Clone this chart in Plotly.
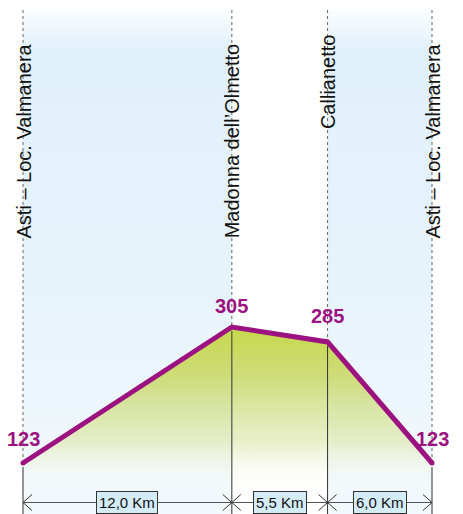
import numpy as np
import plotly.graph_objects as go

# ---------------- data ----------------
SEGMENT_KM = [12.0, 5.5, 6.0]
ELEVATION_M = [123, 305, 285, 123]
PLACE_NAMES = ["Asti – Loc. Valmanera", "Madonna dell’Olmetto", "Callianetto", "Asti – Loc. Valmanera"]
SEGMENT_LABELS = ["12,0 Km", "5,5 Km", "6,0 Km"]
ELEVATION_LABELS = [str(v) for v in ELEVATION_M]

# ---------------- layout constants (pixels) ----------------
W, H = 463, 514
X_FIRST_PX, X_LAST_PX = 23, 432
Y_MIN_PX, Y_MAX_PX = 463, 327
TOP_PX = 10
NAME_BOTTOM_PX = [241, 240, 131, 241]
LABEL_SHIFT_PX = [24, 21, 26, 24]
DIM_PX = 502.5
FILL_BOTTOM_PX = 492

MAGENTA = "#9c1280"
NAME_FONT = "Liberation Sans, Arial, sans-serif"
NUM_FONT = "Liberation Sans, Arial, sans-serif"

dist = np.concatenate([[0.0], np.cumsum(SEGMENT_KM)])
elev = np.array(ELEVATION_M, dtype=float)

px_per_km = (X_LAST_PX - X_FIRST_PX) / (dist[-1] - dist[0])
px_per_m = (Y_MIN_PX - Y_MAX_PX) / (elev.max() - elev.min())
x_range = [dist[0] - X_FIRST_PX / px_per_km, dist[-1] + (W - X_LAST_PX) / px_per_km]
y_range = [elev.min() - (H - Y_MIN_PX) / px_per_m, elev.max() + Y_MAX_PX / px_per_m]


def y_at(px):
    return y_range[1] - px / px_per_m


def dx(px):
    return px / px_per_km


def dy(px):
    return px / px_per_m


fig = go.Figure()

# background bands (alternate segments)
for i in range(len(SEGMENT_KM)):
    if i % 2 == 1:
        continue
    a, b = dist[i], dist[i + 1]
    y0, y1 = y_at(H + 2), y_at(TOP_PX)
    fig.add_trace(go.Scatter(
        x=[a, b, b, a, a], y=[y0, y0, y1, y1, y0], mode="lines",
        line=dict(width=0), fill="toself",
        fillgradient=dict(type="vertical", start=y0, stop=y1,
                          colorscale=[[0, "#f3f9fd"], [0.45, "#e7f3fb"], [0.92, "#e0f0fa"], [1, "#fbfdff"]]),
        hoverinfo="skip", showlegend=False))

# green area under profile
base = y_at(FILL_BOTTOM_PX)
fig.add_trace(go.Scatter(
    x=list(dist) + [dist[-1], dist[0], dist[0]],
    y=list(elev) + [base, base, elev[0]],
    mode="lines", line=dict(width=0), fill="toself",
    fillgradient=dict(type="vertical", start=base, stop=elev.max(),
                      colorscale=[[0, "rgba(255,255,255,0)"], [0.3, "rgba(225,234,185,0.75)"],
                                  [0.7, "rgba(203,219,115,0.95)"], [1, "rgb(198,216,75)"]]),
    hoverinfo="skip", showlegend=False))

# dotted verticals above points
xs, ys = [], []
for d, e in zip(dist, elev):
    xs += [d, d, None]
    ys += [y_at(TOP_PX), e, None]
fig.add_trace(go.Scatter(x=xs, y=ys, mode="lines", line=dict(color="#666", width=1, dash="dot"),
                         hoverinfo="skip", showlegend=False))

# solid verticals below points
xs, ys = [], []
for d, e in zip(dist, elev):
    xs += [d, d, None]
    ys += [e - dy(4), y_at(H + 2), None]
fig.add_trace(go.Scatter(x=xs, y=ys, mode="lines", line=dict(color="#333", width=1),
                         hoverinfo="skip", showlegend=False))

# dimension line with arrowheads
ydim = y_at(DIM_PX)
fig.add_trace(go.Scatter(x=[dist[0], dist[-1]], y=[ydim, ydim], mode="lines",
                         line=dict(color="#555", width=1), hoverinfo="skip", showlegend=False))
xs, ys = [], []
ah, aw = dy(8), dx(9)
for i in range(len(SEGMENT_KM)):
    a, b = dist[i], dist[i + 1]
    xs += [a + aw, a, a + aw, None, b - aw, b, b - aw, None]
    ys += [ydim + ah, ydim, ydim - ah, None, ydim + ah, ydim, ydim - ah, None]
fig.add_trace(go.Scatter(x=xs, y=ys, mode="lines", line=dict(color="#333", width=1),
                         hoverinfo="skip", showlegend=False))

# profile line
fig.add_trace(go.Scatter(x=dist, y=elev, mode="lines", line=dict(color=MAGENTA, width=5),
                         hoverinfo="skip", showlegend=False))
fig.add_trace(go.Scatter(x=[dist[0], dist[-1]], y=[elev[0], elev[-1]], mode="markers",
                         marker=dict(color=MAGENTA, size=5), hoverinfo="skip", showlegend=False))

annotations = []
for d, e, lab, sh in zip(dist, elev, ELEVATION_LABELS, LABEL_SHIFT_PX):
    annotations.append(dict(x=d, y=e, text=f"<b>{lab}</b>", showarrow=False, xanchor="center",
                            yanchor="middle", yshift=sh,
                            font=dict(family=NUM_FONT, size=20, color=MAGENTA)))
for d, name, bpx in zip(dist, PLACE_NAMES, NAME_BOTTOM_PX):
    annotations.append(dict(x=d, y=y_at(bpx), text=name, showarrow=False, textangle=-90,
                            xanchor="center", yanchor="bottom",
                            font=dict(family=NAME_FONT, size=20, color="#111")))
for i, lab in enumerate(SEGMENT_LABELS):
    annotations.append(dict(x=(dist[i] + dist[i + 1]) / 2, y=ydim, text=lab, showarrow=False,
                            xanchor="center", yanchor="middle", bgcolor="#d4ebf8",
                            bordercolor="#333", borderwidth=1, borderpad=2,
                            font=dict(family=NAME_FONT, size=15, color="#111")))

fig.update_layout(
    width=W, height=H, margin=dict(l=0, r=0, t=0, b=0),
    paper_bgcolor="white", plot_bgcolor="white",
    xaxis=dict(range=x_range, visible=False, fixedrange=True),
    yaxis=dict(range=y_range, visible=False, fixedrange=True),
    annotations=annotations, showlegend=False,
)

fig.write_html("out.html", config={"displayModeBar": False},
               post_script="document.body.style.margin='0px';document.body.style.overflow='hidden';")
